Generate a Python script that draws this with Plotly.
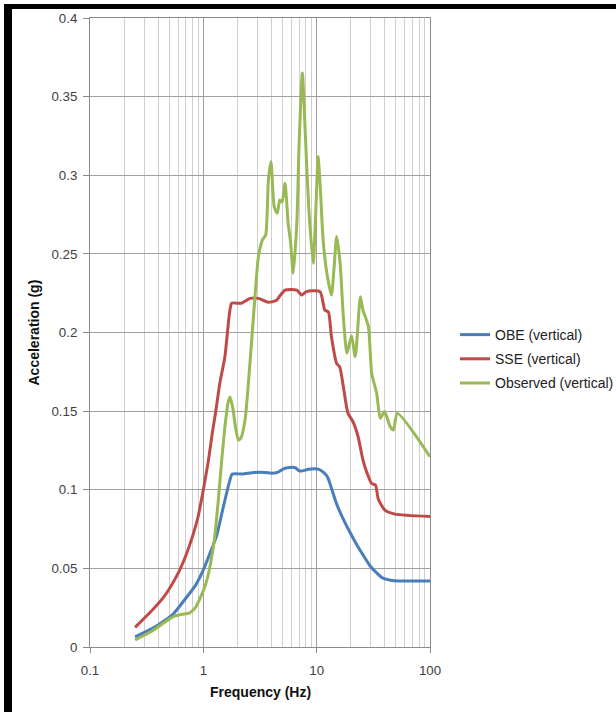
import plotly.graph_objects as go

# ---------------- data ----------------
obe_freq = [0.25, 0.35, 0.45, 0.55, 0.7, 0.85, 1.0, 1.15, 1.3, 1.5, 1.7, 1.8, 2.2, 2.8, 3.5, 4.0,
            4.5, 5.0, 5.5, 6.5, 7.0, 7.5, 8.5, 10.5, 11.5, 12.5, 13.5, 15, 17, 20, 23, 27, 30,
            34, 38, 45, 55, 100]
obe_acc = [0.0065, 0.0115, 0.0165, 0.0215, 0.031, 0.039, 0.049, 0.060, 0.070, 0.089, 0.105, 0.110,
           0.110, 0.111, 0.111, 0.1105, 0.111, 0.113, 0.114, 0.114, 0.112, 0.112, 0.113, 0.113,
           0.111, 0.108, 0.101, 0.091, 0.082, 0.072, 0.064, 0.056, 0.051, 0.047, 0.044, 0.0425,
           0.042, 0.042]

sse_freq = [0.25, 0.35, 0.45, 0.6, 0.7, 0.8, 0.9, 1.0, 1.1, 1.2, 1.3, 1.4, 1.55, 1.7, 1.78, 2.17,
            2.58, 3.06, 3.75, 4.43, 4.73, 5.26, 6.68, 7.38, 8.1, 10.7, 11.8, 12.7, 13.5, 15.0,
            16.0, 17.2, 18.9, 20.9, 23.2, 25.6, 27.7, 30.5, 33, 35, 40, 49, 100]
sse_acc = [0.0125, 0.023, 0.032, 0.047, 0.058, 0.070, 0.083, 0.100, 0.117, 0.136, 0.152, 0.168,
           0.1846, 0.212, 0.2186, 0.2186, 0.2217, 0.2217, 0.2192, 0.2205, 0.2232, 0.227, 0.227,
           0.2238, 0.226, 0.226, 0.2143, 0.213, 0.1973, 0.1804, 0.178, 0.1655, 0.1486, 0.1433,
           0.1337, 0.119, 0.111, 0.104, 0.103, 0.094, 0.087, 0.0845, 0.083]

obs_freq = [0.25, 0.35, 0.45, 0.55, 0.65, 0.75, 0.85, 0.95, 1.05, 1.15, 1.25, 1.35, 1.45, 1.55,
            1.65, 1.72, 1.82, 1.92, 2.04, 2.15, 2.33, 2.5, 2.67, 2.85, 3.06, 3.33, 3.55, 3.75,
            3.95, 4.22, 4.49, 4.73, 4.96, 5.26, 5.6, 5.9, 6.2, 6.68, 7.0, 7.48, 7.9, 8.5, 9.32,
            9.8, 10.3, 10.8, 11.4, 12.3, 13.5, 14.2, 15.0, 16.1, 17.2, 18.5, 20.3, 21.9, 24.3,
            25.6, 28.6, 30.6, 33.9, 36.4, 39.7, 44.6, 47.6, 51.5, 100]
obs_acc = [0.0045, 0.010, 0.0155, 0.0195, 0.0208, 0.0215, 0.025, 0.032, 0.040, 0.052, 0.068, 0.092,
           0.118, 0.140, 0.155, 0.159, 0.152, 0.140, 0.1316, 0.133, 0.144, 0.168, 0.195, 0.222,
           0.248, 0.259, 0.262, 0.297, 0.3086, 0.280, 0.2758, 0.2843, 0.283, 0.2949, 0.2695,
           0.2567, 0.2377, 0.2695, 0.320, 0.365, 0.330, 0.280, 0.244, 0.275, 0.3118, 0.290, 0.2588,
           0.2377, 0.2238, 0.240, 0.261, 0.244, 0.210, 0.1868, 0.198, 0.1846, 0.2228, 0.2143,
           0.2037, 0.174, 0.161, 0.1454, 0.1497, 0.140, 0.138, 0.1486, 0.121]

series_names = ["OBE (vertical)", "SSE (vertical)", "Observed (vertical)"]
series_colors = ["#4A7EBB", "#BE4B48", "#98B954"]

x_major = [0.1, 1, 10, 100]
x_major_text = ["0.1", "1", "10", "100"]
x_minor = [m * d for d in (0.1, 1, 10) for m in range(2, 10)]
y_ticks = [0, 0.05, 0.1, 0.15, 0.2, 0.25, 0.3, 0.35, 0.4]
y_ticktext = ["0", "0.05", "0.1", "0.15", "0.2", "0.25", "0.3", "0.35", "0.4"]

# ---------------- figure ----------------
FONT = "Liberation Sans, Arial, sans-serif"
W, H = 616, 712
fig = go.Figure()
for i, (name, fx, fy, col) in enumerate(zip(series_names, [obe_freq, sse_freq, obs_freq],
                                            [obe_acc, sse_acc, obs_acc], series_colors)):
    fig.add_trace(go.Scatter(x=fx, y=fy, name=name, mode="lines", legendgroup=f"g{i}",
                             line=dict(color=col, width=3, shape="spline", smoothing=0.6)))

fig.update_layout(
    width=W, height=H,
    margin=dict(l=90, r=186, t=18, b=65),
    paper_bgcolor="white", plot_bgcolor="white",
    font=dict(family=FONT, size=13.3, color="#404040"),
    showlegend=True,
    legend=dict(xref="container", yref="container", x=455 / W, y=(H - 359) / H,
                xanchor="left", yanchor="middle",
                font=dict(family=FONT, size=14, color="#222222"),
                tracegroupgap=3, bgcolor="rgba(0,0,0,0)", borderwidth=0),
    xaxis=dict(type="log", range=[-1, 2], tickmode="array", tickvals=x_major,
               ticktext=x_major_text, showgrid=True, gridcolor="#a0a0a0", gridwidth=1,
               minor=dict(tickmode="array", tickvals=x_minor, showgrid=True,
                          gridcolor="#cfcfcf", gridwidth=1, ticks=""),
               ticks="outside", ticklen=5, tickcolor="#8a8a8a", ticklabelstandoff=6,
               showline=True, linecolor="#8a8a8a", linewidth=1, mirror=True,
               zeroline=False, tickfont=dict(size=13.3, color="#404040")),
    yaxis=dict(range=[0, 0.4], tickmode="array", tickvals=y_ticks, ticktext=y_ticktext,
               showgrid=True, gridcolor="#a0a0a0", gridwidth=1,
               ticks="outside", ticklen=6, tickcolor="#8a8a8a", ticklabelstandoff=3,
               showline=True, linecolor="#8a8a8a", linewidth=1, mirror=True,
               zeroline=False, tickfont=dict(size=13.3, color="#404040")),
    annotations=[
        dict(text="<b>Frequency (Hz)</b>", xref="paper", yref="paper", x=0.5,
             y=(647 - 692) / 629, xanchor="center", yanchor="middle", showarrow=False,
             font=dict(family=FONT, size=14, color="#111111")),
        dict(text="<b>Acceleration (g)</b>", xref="paper", yref="paper",
             x=(33 - 90) / 340, y=0.5, xanchor="center", yanchor="middle",
             textangle=-90, showarrow=False,
             font=dict(family=FONT, size=14, color="#111111")),
    ],
    shapes=[
        dict(type="rect", xref="paper", yref="paper", x0=(4 - 90) / 340, x1=(12 - 90) / 340,
             y0=(647 - 712) / 629, y1=(647 - 4) / 629, fillcolor="black",
             line=dict(width=0), layer="above"),
        dict(type="rect", xref="paper", yref="paper", x0=(4 - 90) / 340, x1=(616 - 90) / 340,
             y0=(647 - 9) / 629, y1=(647 - 4) / 629, fillcolor="black",
             line=dict(width=0), layer="above"),
    ],
)

fig.write_html("out.html", config={"displayModeBar": False},
               post_script="document.body.style.margin='0px';document.body.style.overflow='hidden';")
